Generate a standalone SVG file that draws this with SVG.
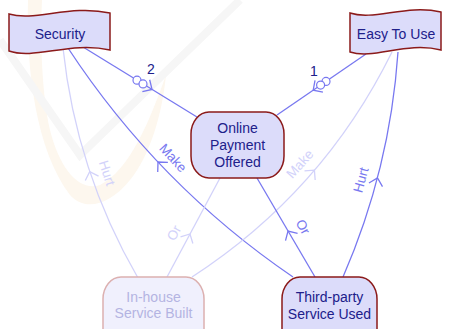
<svg xmlns="http://www.w3.org/2000/svg" width="451" height="329" viewBox="0 0 451 329">
  <style>
    .goal { fill: #dcdcfa; stroke: #8b1a1a; stroke-width: 1.5; }
    .goal-dim { fill: #f0f0fd; stroke: #dcb0b0; stroke-width: 1.5; }
    .name { font-family: "Liberation Sans", Arial, sans-serif; font-size: 14px; fill: #20208a; text-anchor: middle; }
    .name-dim { fill: #b4b4e2; }
    .link { fill: none; stroke: #7878f0; stroke-width: 1.3; }
    .link-dim { fill: none; stroke: #d2d2fa; stroke-width: 1.3; }
    .lbl { font-family: "Liberation Sans", Arial, sans-serif; font-size: 13.5px; fill: #7878f0; text-anchor: middle; dominant-baseline: central; }
    .lbl-dim { fill: #d2d2fa; }
    .num { font-family: "Liberation Sans", Arial, sans-serif; font-size: 14px; fill: #20208a; text-anchor: middle; }
    .ring { fill: #ffffff; stroke: #7878f0; stroke-width: 1.2; }
  </style>
  <defs>
    <path id="chev" d="M-7,-7 L0,0 L-7,7" fill="none"/>
  </defs>

  <rect width="451" height="329" fill="#ffffff"/>

  <!-- faint background emblem -->
  <g id="emblem">
    <path d="M28,0 C26,70 36,150 70,195 C85,212 110,205 130,180 C150,155 162,115 166,75 C150,120 130,170 100,185 C80,192 60,170 50,130 C42,95 40,40 42,0 Z" fill="#fdf7ee"/>
    <polyline points="0,40 80,155 240,0" fill="none" stroke="#f6f6f6" stroke-width="8"/>
  </g>

  <!-- connectors -->
  <g id="connectors">
    <!-- Security - Online Payment Offered (2) -->
    <path class="link" d="M83,47 L197,117"/>
    <circle class="ring" cx="137" cy="80.2" r="4"/>
    <circle class="ring" cx="143" cy="83.9" r="4"/>
    <use href="#chev" class="link" transform="translate(152,89.4) rotate(31.5)"/>
    <text class="num" x="151" y="74">2</text>

    <!-- Easy To Use - Online Payment Offered (1) -->
    <path class="link" d="M366,54 L277,115"/>
    <circle class="ring" cx="326" cy="81.4" r="4"/>
    <circle class="ring" cx="320.6" cy="85.1" r="4"/>
    <use href="#chev" class="link" transform="translate(313.2,90.2) rotate(145.6)"/>
    <text class="num" x="314" y="76">1</text>

    <!-- Third-party Service Used - Security (Make) -->
    <path class="link" d="M68,48 Q158,185 293,277"/>
    <use href="#chev" class="link" transform="translate(158,162) rotate(226.6)"/>
    <text class="lbl" transform="translate(173,158) rotate(47)">Make</text>

    <!-- In-house Service Built - Security (Hurt) -->
    <path class="link-dim" d="M63,48 Q76,171 138,278"/>
    <use href="#chev" class="link-dim" transform="translate(89.7,171.7) rotate(251.4)"/>
    <text class="lbl lbl-dim" transform="translate(107,173) rotate(72)">Hurt</text>

    <!-- In-house Service Built - Online Payment Offered (Or) -->
    <path class="link-dim" d="M167,277 L220,178"/>
    <use href="#chev" class="link-dim" transform="translate(190,234) rotate(-61.8)"/>
    <text class="lbl lbl-dim" transform="translate(174,233) rotate(-62)">Or</text>

    <!-- In-house Service Built - Easy To Use (Make) -->
    <path class="link-dim" d="M192,277 Q323,192 392,52"/>
    <use href="#chev" class="link-dim" transform="translate(314.4,170.2) rotate(-49.5)"/>
    <text class="lbl lbl-dim" transform="translate(300,164) rotate(-48)">Make</text>

    <!-- Third-party Service Used - Online Payment Offered (Or) -->
    <path class="link" d="M315,277 L257,178"/>
    <use href="#chev" class="link" transform="translate(288,231) rotate(239.6)"/>
    <text class="lbl" transform="translate(303,227) rotate(60)">Or</text>

    <!-- Third-party Service Used - Easy To Use (Hurt) -->
    <path class="link" d="M343,277 Q390,169 398,52"/>
    <use href="#chev" class="link" transform="translate(377.5,178) rotate(-75.3)"/>
    <text class="lbl" transform="translate(361,180) rotate(-75)">Hurt</text>
  </g>

  <!-- softgoals -->
  <g id="security">
    <path class="goal" d="M9,14 C35,22 70,4 110,13 V50 C70,41 35,60 9,51 Z"/>
    <text class="name" x="60" y="39">Security</text>
  </g>
  <g id="easy-to-use">
    <path class="goal" d="M350,13 C374,21 406,4 441,12 V50 C406,41 374,60 350,52 Z"/>
    <text class="name" x="396" y="39">Easy To Use</text>
  </g>

  <!-- goals / tasks -->
  <g id="online-payment">
    <rect class="goal" x="191" y="112" width="93" height="66" rx="18" ry="22"/>
    <text class="name" x="237.5" y="133">Online</text>
    <text class="name" x="237.5" y="150">Payment</text>
    <text class="name" x="237.5" y="167">Offered</text>
  </g>
  <g id="in-house">
    <rect class="goal-dim" x="103" y="277" width="101" height="74" rx="18" ry="22"/>
    <text class="name name-dim" x="153.5" y="302">In-house</text>
    <text class="name name-dim" x="153.5" y="318">Service Built</text>
  </g>
  <g id="third-party">
    <rect class="goal" x="282" y="277" width="95" height="74" rx="18" ry="22"/>
    <text class="name" x="329.5" y="302">Third-party</text>
    <text class="name" x="329.5" y="319">Service Used</text>
  </g>
</svg>
